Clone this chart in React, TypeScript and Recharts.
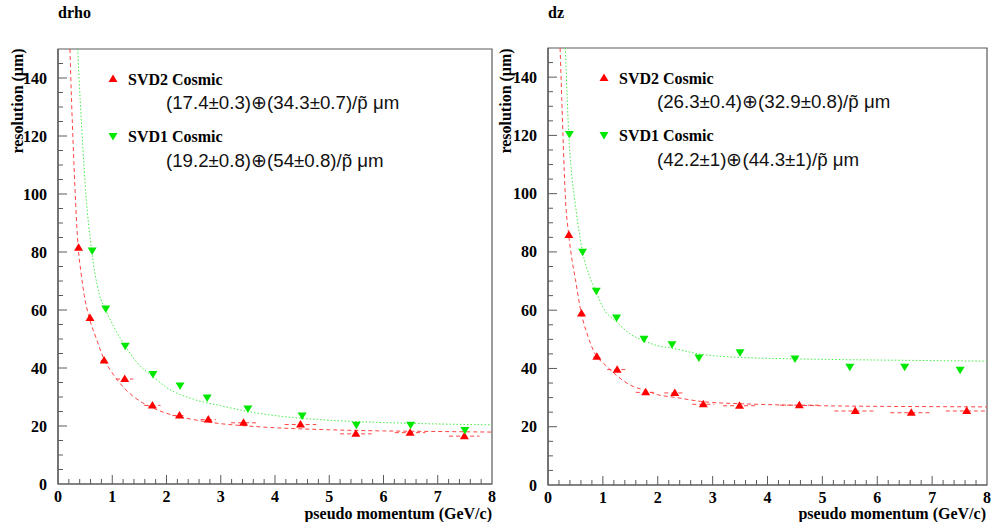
import React from 'react'
import { ComposedChart, Line, Scatter, XAxis, YAxis, ErrorBar, ReferenceArea } from 'recharts'

const RED = '#ff0000'
const GREEN = '#00e800'
const AXIS = '#5a5a5a'
const SERIF = '"Liberation Serif", "Times New Roman", serif'
const SANS = '"Liberation Sans", Arial, sans-serif'

// drho, measured points (pseudo momentum, resolution, x error)
const DRHO_SVD2_P = [0.38, 0.59, 0.85, 1.23, 1.74, 2.24, 2.77, 3.42, 4.47, 5.49, 6.49, 7.49]
const DRHO_SVD2_RES = [81.5, 57.2, 42.6, 36.2, 27.1, 23.6, 22.2, 21.1, 20.5, 17.3, 17.7, 16.5]
const DRHO_SVD2_PERR = [0, 0, 0.06, 0.16, 0.15, 0.13, 0.14, 0.23, 0.29, 0.29, 0.28, 0.28]
const DRHO_SVD1_P = [0.63, 0.88, 1.24, 1.75, 2.25, 2.75, 3.5, 4.5, 5.5, 6.5, 7.5]
const DRHO_SVD1_RES = [80.5, 60.5, 47.7, 37.9, 34.0, 29.8, 26.0, 23.6, 20.4, 20.4, 18.6]

// drho, fitted curves
const DRHO_SVD2_FIT_P = [0.22, 0.25, 0.28, 0.32, 0.37, 0.42, 0.485, 0.58, 0.69, 0.85, 1.0, 1.25, 1.5, 1.75, 2, 2.5, 3, 3.5, 4, 5, 6, 7, 8]
const DRHO_SVD2_FIT_RES = [150, 132, 117, 99, 82, 73.5, 65, 57, 51, 43, 38.3, 32.5, 28.7, 26.2, 24.4, 22.2, 20.8, 20.0, 19.4, 18.7, 18.3, 18.1, 17.9]
const DRHO_SVD1_FIT_P = [0.363, 0.41, 0.455, 0.516, 0.61, 0.76, 0.88, 1.05, 1.24, 1.5, 1.75, 2, 2.5, 3, 3.5, 4, 5, 6, 7, 8]
const DRHO_SVD1_FIT_RES = [150, 132, 117, 99.4, 82, 65.5, 60, 53.5, 47.5, 41, 37, 33.3, 29.2, 27, 25, 23.6, 22.0, 21.2, 20.7, 20.4]

// dz, measured points
const DZ_SVD2_P = [0.38, 0.61, 0.89, 1.26, 1.78, 2.31, 2.83, 3.49, 4.58, 5.6, 6.62, 7.63]
const DZ_SVD2_RES = [85.8, 58.9, 44.0, 39.6, 31.8, 31.6, 27.7, 27.2, 27.4, 25.4, 24.8, 25.4]
const DZ_SVD2_PERR = [0, 0.03, 0.06, 0.18, 0.18, 0.19, 0.2, 0.3, 0.35, 0.38, 0.38, 0.38]
const DZ_SVD1_P = [0.39, 0.63, 0.88, 1.25, 1.75, 2.26, 2.75, 3.5, 4.5, 5.5, 6.5, 7.51]
const DZ_SVD1_RES = [120.5, 80.1, 66.7, 57.5, 50.2, 48.3, 43.8, 45.6, 43.4, 40.6, 40.6, 39.6]

// dz, fitted curves
const DZ_SVD2_FIT_P = [0.22, 0.25, 0.28, 0.316, 0.377, 0.44, 0.5, 0.6, 0.72, 0.89, 1.0, 1.25, 1.5, 1.78, 2, 2.31, 2.83, 3.5, 4, 5, 6, 7, 8]
const DZ_SVD2_FIT_RES = [150, 133, 116, 99, 86, 77, 70.5, 59.5, 51.5, 44, 42, 37.6, 34.3, 32.4, 31, 30.1, 28.6, 27.9, 27.6, 27.2, 27.0, 26.9, 26.8]
const DZ_SVD1_FIT_P = [0.316, 0.35, 0.377, 0.42, 0.48, 0.55, 0.63, 0.75, 0.875, 1.0, 1.25, 1.5, 1.75, 2, 2.25, 2.75, 3.5, 4.5, 5.5, 6.5, 8]
const DZ_SVD1_FIT_RES = [150, 133, 120.5, 109, 99, 89, 80, 72, 66.5, 61, 56, 51.8, 49.5, 47.8, 47, 45, 43.8, 43.3, 43, 42.8, 42.5]

const X_MAJOR = [0, 1, 2, 3, 4, 5, 6, 7, 8]
const Y_MAJOR = [0, 20, 40, 60, 80, 100, 120, 140]

const X_TICKS = Array.from({ length: 41 }, (_, i) => i / 5)
const Y_TICKS = Array.from({ length: 30 }, (_, i) => i * 5)

const toRows = (p: number[], r: number[], e?: number[]) =>
    p.map((x, i) => ({ x, y: r[i], ex: e ? e[i] : 0 }))

function TriUp({ cx, cy }: any) {
    return <polygon points={`${cx},${cy - 4.5} ${cx - 4.5},${cy + 3} ${cx + 4.5},${cy + 3}`} fill={RED} />
}

function TriDown({ cx, cy }: any) {
    return <polygon points={`${cx - 4.5},${cy - 3} ${cx + 4.5},${cy - 3} ${cx},${cy + 4.5}`} fill={GREEN} />
}

function YTick({ x, y, payload }: any) {
    const v = payload.value
    const major = Y_MAJOR.includes(v)
    return (
        <g>
            {v > 0 && <line x1={x} x2={x + (major ? 9 : 5)} y1={y} y2={y} stroke={AXIS} />}
            {major && (
                <text x={x - 11} y={y} textAnchor="end" dominantBaseline="central"
                    fontFamily={SERIF} fontWeight="bold" fontSize={16} fill="#000">
                    {v}
                </text>
            )}
        </g>
    )
}

function XTick({ x, y, payload }: any) {
    const v = payload.value
    const major = X_MAJOR.some((m) => Math.abs(m - v) < 1e-6)
    return (
        <g>
            {v > 0 && v < 8 && <line x1={x} x2={x} y1={y} y2={y - (major ? 9 : 5)} stroke={AXIS} />}
            {major && (
                <text x={x} y={y + 12} textAnchor="middle" dominantBaseline="central"
                    fontFamily={SERIF} fontWeight="bold" fontSize={16} fill="#000">
                    {Math.round(v)}
                </text>
            )}
        </g>
    )
}

interface PanelProps {
    left: number
    width: number
    margin: { top: number; right: number; bottom: number; left: number }
    yWidth: number
    svd2: any[]
    svd1: any[]
    fit2: any[]
    fit1: any[]
}

function Panel({ left, width, margin, yWidth, svd2, svd1, fit2, fit1 }: PanelProps) {
    return (
        <div style={{ position: 'absolute', left, top: 0 }}>
            <ComposedChart width={width} height={522} margin={margin}>
                <ReferenceArea x1={0} x2={8} y1={0} y2={150} fill="none" stroke={AXIS} strokeWidth={1.2} ifOverflow="visible" />
                <XAxis type="number" dataKey="x" domain={[0, 8]} ticks={X_TICKS} interval={0}
                    tick={(p: any) => <XTick {...p} />} tickLine={false} tickSize={0} tickMargin={0}
                    axisLine={{ stroke: AXIS, strokeWidth: 1.2 }} height={30} allowDataOverflow />
                <YAxis type="number" dataKey="y" domain={[0, 150]} ticks={Y_TICKS} interval={0}
                    tick={(p: any) => <YTick {...p} />} tickLine={false} tickSize={0} tickMargin={0}
                    axisLine={{ stroke: AXIS, strokeWidth: 1.2 }} width={yWidth} allowDataOverflow />
                <Line data={fit1} dataKey="y" type="monotone" stroke="#44ee44" strokeWidth={1}
                    strokeDasharray="1.5 2" dot={false} activeDot={false} isAnimationActive={false} />
                <Line data={fit2} dataKey="y" type="monotone" stroke="#ff4444" strokeWidth={1}
                    strokeDasharray="4 3" dot={false} activeDot={false} isAnimationActive={false} />
                <Scatter data={svd2} dataKey="y" shape={(p: any) => <TriUp {...p} />} isAnimationActive={false}>
                    <ErrorBar dataKey="ex" direction="x" width={0} stroke="#ff4444" strokeWidth={1} strokeDasharray="4 3" />
                </Scatter>
                <Scatter data={svd1} dataKey="y" shape={(p: any) => <TriDown {...p} />} isAnimationActive={false} />
            </ComposedChart>
        </div>
    )
}

const boldSerif = { fontFamily: SERIF, fontWeight: 'bold' as const, fontSize: 16, fill: '#000' }
const formula = { fontFamily: SANS, fontSize: 18.7, fill: '#111' }

function LegendBlock({ mx, y2, y1, f2, f1 }: { mx: number; y2: number; y1: number; f2: string; f1: string }) {
    return (
        <g>
            <polygon points={`${mx},${y2 - 4.5} ${mx - 4.5},${y2 + 3} ${mx + 4.5},${y2 + 3}`} fill={RED} />
            <text x={mx + 15} y={y2} dominantBaseline="central" {...boldSerif}>SVD2 Cosmic</text>
            <text x={mx + 53} y={y2 + 23} dominantBaseline="central" {...formula}>{f2}</text>
            <polygon points={`${mx - 4.5},${y1 - 3} ${mx + 4.5},${y1 - 3} ${mx},${y1 + 4.5}`} fill={GREEN} />
            <text x={mx + 15} y={y1} dominantBaseline="central" {...boldSerif}>SVD1 Cosmic</text>
            <text x={mx + 53} y={y1 + 24} dominantBaseline="central" {...formula}>{f1}</text>
        </g>
    )
}

export default function App() {
    return (
        <div style={{ position: 'relative', width: 992, height: 522, background: '#fff', overflow: 'hidden' }}>
            <style>{'body{margin:0}'}</style>
            <Panel left={0} width={496} margin={{ top: 49, right: 4, bottom: 8, left: 0 }} yWidth={58}
                svd2={toRows(DRHO_SVD2_P, DRHO_SVD2_RES, DRHO_SVD2_PERR)}
                svd1={toRows(DRHO_SVD1_P, DRHO_SVD1_RES)}
                fit2={toRows(DRHO_SVD2_FIT_P, DRHO_SVD2_FIT_RES)}
                fit1={toRows(DRHO_SVD1_FIT_P, DRHO_SVD1_FIT_RES)} />
            <Panel left={492} width={500} margin={{ top: 48, right: 5, bottom: 7, left: 0 }} yWidth={56}
                svd2={toRows(DZ_SVD2_P, DZ_SVD2_RES, DZ_SVD2_PERR)}
                svd1={toRows(DZ_SVD1_P, DZ_SVD1_RES)}
                fit2={toRows(DZ_SVD2_FIT_P, DZ_SVD2_FIT_RES)}
                fit1={toRows(DZ_SVD1_FIT_P, DZ_SVD1_FIT_RES)} />
            <svg width={992} height={522} style={{ position: 'absolute', left: 0, top: 0, pointerEvents: 'none' }}>
                <text x={58} y={12} dominantBaseline="central" {...boldSerif}>drho</text>
                <text x={548} y={12} dominantBaseline="central" {...boldSerif}>dz</text>
                <text transform="translate(17,101) rotate(-90)" textAnchor="middle" dominantBaseline="central" {...boldSerif}>resolution (μm)</text>
                <text transform="translate(505,101) rotate(-90)" textAnchor="middle" dominantBaseline="central" {...boldSerif}>resolution (μm)</text>
                <text x={492} y={513} textAnchor="end" dominantBaseline="central" {...boldSerif}>pseudo momentum (GeV/c)</text>
                <text x={986} y={513} textAnchor="end" dominantBaseline="central" {...boldSerif}>pseudo momentum (GeV/c)</text>
                <LegendBlock mx={113} y2={79} y1={136}
                    f2={'(17.4±0.3)⊕(34.3±0.7)/p\u0303 μm'} f1={'(19.2±0.8)⊕(54±0.8)/p\u0303 μm'} />
                <LegendBlock mx={604} y2={78} y1={135}
                    f2={'(26.3±0.4)⊕(32.9±0.8)/p\u0303 μm'} f1={'(42.2±1)⊕(44.3±1)/p\u0303 μm'} />
            </svg>
        </div>
    )
}
